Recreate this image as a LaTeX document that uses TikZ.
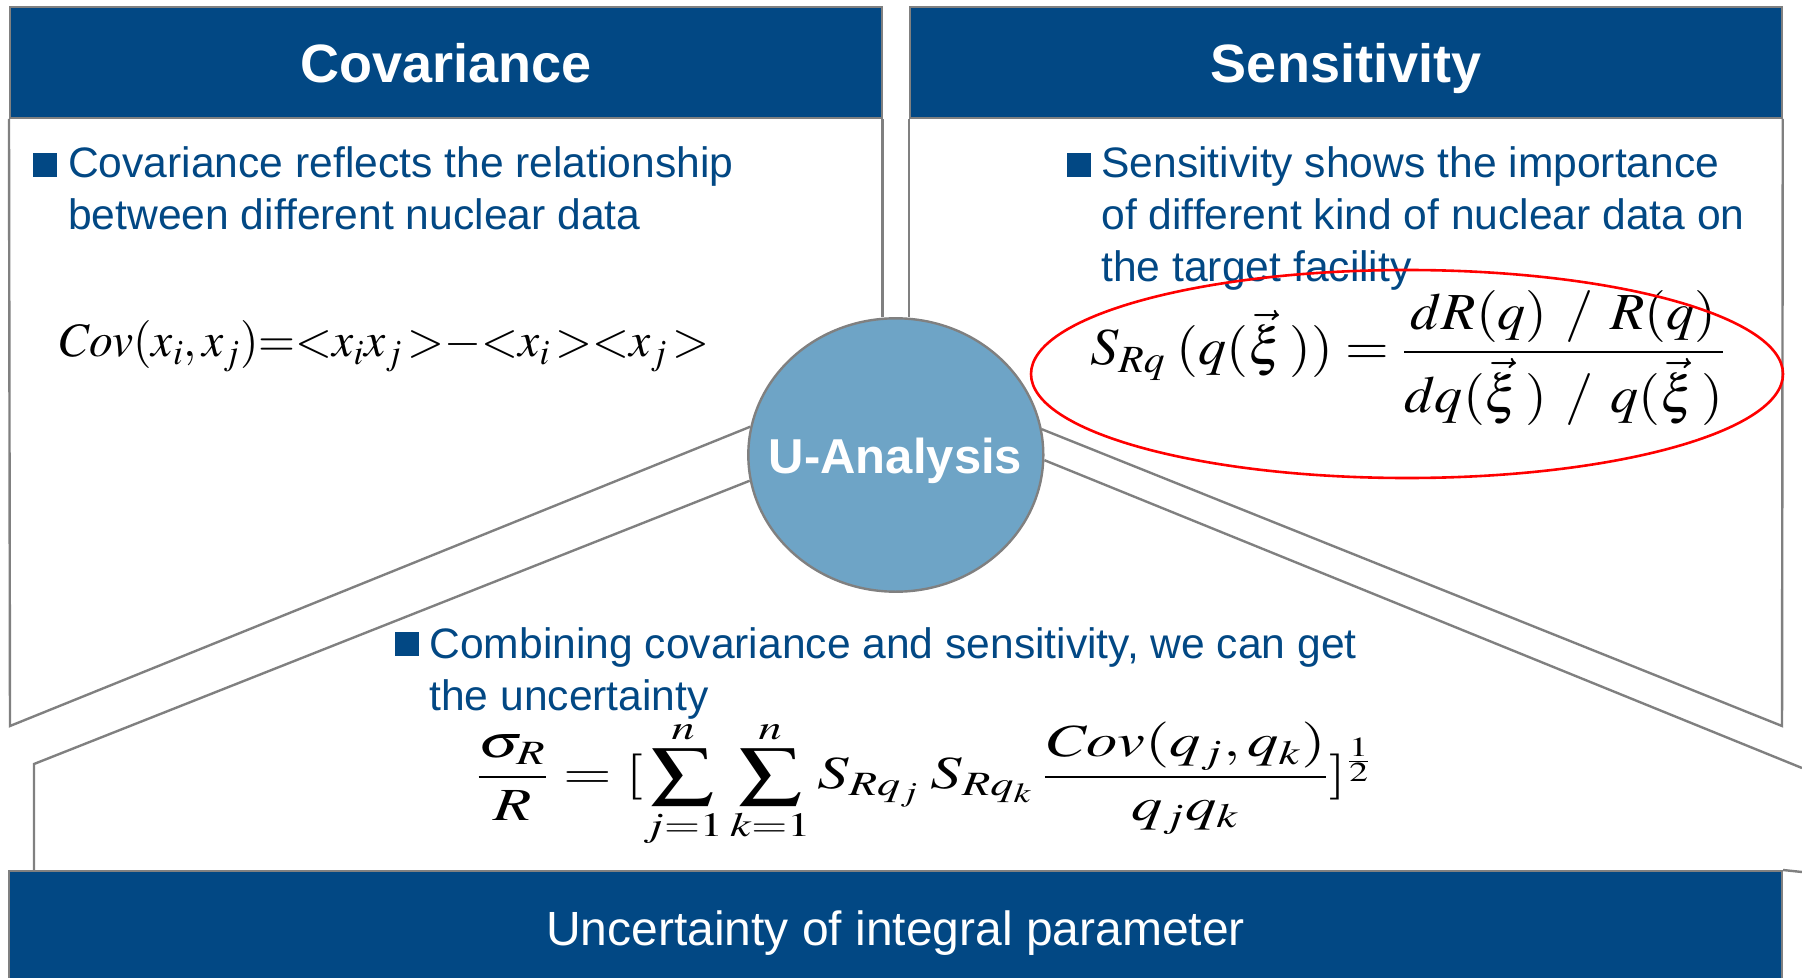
\documentclass[tikz,border=0pt]{standalone}
\usepackage{amsmath}
\usepackage{mathptmx}
\usepackage[no-math]{fontspec}
\setmainfont{Liberation Sans}
\usetikzlibrary{shapes.geometric}
\definecolor{ublue}{RGB}{2,72,132}
\definecolor{ucirc}{RGB}{110,164,198}
\definecolor{ugray}{RGB}{128,128,128}
\begin{document}
\begin{tikzpicture}[x=0.5pt,y=-0.5pt,
  hdr/.style={rectangle, draw=ugray, line width=1pt, fill=ublue, minimum width=435.75pt, minimum height=55.5pt, inner sep=0pt, text=white, font=\fontsize{27}{30}\selectfont\bfseries, text height=20.5pt, text depth=0pt},
  panel/.style={draw=ugray, line width=1.2pt},
  body/.style={text=ublue, font=\fontsize{21.3}{26}\selectfont, inner sep=0pt, anchor=base west},
  bul/.style={rectangle, fill=ublue, minimum size=11.75pt, inner sep=0pt, anchor=north west},
  fml/.style={inner sep=0pt, text=black}]
\useasboundingbox (0,0) rectangle (1802,978);
% headers and bottom box
\node[hdr] (covh) at (445.75,62.5) {Covariance};
\node[hdr] (sensh) at (1346,62.5) {Sensitivity};
\node[rectangle, draw=ugray, fill=ublue, line width=1pt, minimum width=886.5pt, minimum height=60pt, inner sep=0pt, text=white, font=\fontsize{24}{28}\selectfont, text height=14pt, text depth=0pt] (ubox) at (895.5,931) {Uncertainty of integral parameter};
% centre circle
\node[ellipse, draw=ugray, line width=1.2pt, fill=ucirc, minimum width=147.5pt, minimum height=136.7pt, inner sep=0pt] (ua) at (895.8,455) {};
\node[text=white, font=\fontsize{24.5}{28}\selectfont\bfseries, anchor=base, inner sep=0pt] (ual) at (895.5,473) {U-Analysis};
% panel corners
\coordinate (lc) at (10,726);
\coordinate (rc) at (1782,726);
\coordinate (bl1) at (34,764);
\coordinate (bl2) at (34,871);
\coordinate (br) at (1802,768);
\coordinate (be) at (1802,872);
% panel outlines
\draw[panel] (covh.south west) -- (lc) -- (ua.169);
\draw[panel] (covh.south east) -- (covh.south east |- ua.north);
\draw[panel] (sensh.south west) -- (sensh.south west |- ua.north);
\draw[panel] (sensh.south east) -- (rc) -- (ua.10.5);
\draw[panel] (ua.190) -- (bl1) -- (bl2);
\draw[panel] (ua.358) -- (br);
\draw[panel] (ubox.north east) -- (be);
% bullets and texts
\node[bul] (b1) at (33,153) {};
\node[body] (t1) at (67.7,178) {\begin{tabular}[t]{@{}l@{}}Covariance reflects the relationship\\ between different nuclear data\end{tabular}};
\node[bul] (b2) at (1067,153) {};
\node[body] (t2) at (1101,178) {\begin{tabular}[t]{@{}l@{}}Sensitivity shows the importance\\ of different kind of nuclear data on\\ the target facility\end{tabular}};
\node[bul] (b3) at (395,632) {};
\node[body] (t3) at (429,658) {\begin{tabular}[t]{@{}l@{}}Combining covariance and sensitivity, we can get\\ the uncertainty\end{tabular}};
% formulas
\node[fml, anchor=base west, font=\fontsize{24}{28}\selectfont] (f1) at (57,357) {\scalebox{0.99}[1]{$\mathit{Cov}(x_i,x_j)\mathord{=}\mathord{<}x_ix_j\,\mathord{>}{-}\mathord{<}x_i\,\mathord{>}\mathord{<}x_j\,\mathord{>}$}};
\node[fml, anchor=west, font=\fontsize{26}{30}\selectfont] (f2) at (1090,358) {\scalebox{1.08}[1]{$\displaystyle S_{Rq}\hspace{5pt}(q(\vec{\xi}\,))=\frac{dR(q)\hspace{8pt}/\hspace{8pt}R(q)}{dq(\vec{\xi}\,)\hspace{8pt}/\hspace{8pt}q(\vec{\xi}\,)}$}};
\node[fml, anchor=west, font=\fontsize{23}{27}\selectfont] (f3) at (475,784) {\scalebox{1.36}[1]{$\displaystyle \frac{\sigma_R}{R}=[\sum_{j=1}^{n}\sum_{k=1}^{n}S_{Rq_j}\hspace{4pt}S_{Rq_k}\hspace{3pt}\frac{\mathit{Cov}(q_j,q_k)}{q_jq_k}]^{\frac12}$}};
% red highlight
\node[ellipse, draw=red, line width=1.3pt, minimum width=376pt, minimum height=104pt, inner sep=0pt] (hl) at (1407,374) {};
\end{tikzpicture}
\end{document}
